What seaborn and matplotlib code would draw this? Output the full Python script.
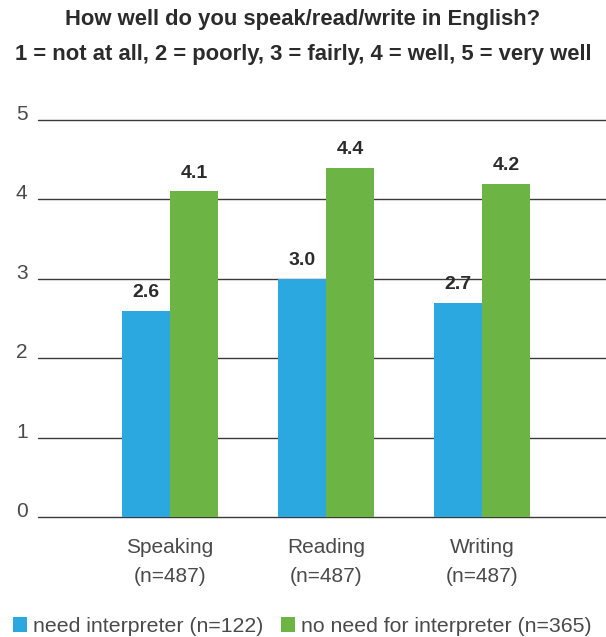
import matplotlib
matplotlib.use("Agg")
import matplotlib.pyplot as plt
import seaborn as sns
import pandas as pd
from matplotlib.patches import Patch

skills = ["Speaking\n(n=487)", "Reading\n(n=487)", "Writing\n(n=487)"]
groups = ["need interpreter (n=122)", "no need for interpreter (n=365)"]
need_interpreter = [2.6, 3.0, 2.7]
no_need = [4.1, 4.4, 4.2]
yticks = [0, 1, 2, 3, 4, 5]

colors = ["#2CA8E1", "#6CB443"]
text_gray = "#4a4a4a"
dark = "#2b2b2b"
grid_col = "#3a3a3a"

df = pd.DataFrame({
    "skill": skills * 2,
    "group": [groups[0]] * 3 + [groups[1]] * 3,
    "score": need_interpreter + no_need,
})

sns.set_theme(style="white")
plt.rcParams["font.family"] = ["Liberation Sans", "DejaVu Sans"]

W, H = 606, 637
fig = plt.figure(figsize=(W / 100, H / 100), dpi=100)
ax = fig.add_axes([38 / W, 1 - 517 / H, 1 - 38 / W, 397 / H])

sns.barplot(data=df, x="skill", y="score", hue="group", palette=colors,
            width=0.615, saturation=1, linewidth=0, ax=ax, legend=False,
            zorder=3)

ax.set_ylim(0, 5)
ax.set_xlim(-0.846, 2.795)
ax.set_yticks(yticks)
ax.yaxis.grid(True, color=grid_col, linewidth=1.0, zorder=0)
for gl in ax.get_ygridlines():
    gl.set_clip_on(False)
ax.set_axisbelow(True)
for s in ax.spines.values():
    s.set_visible(False)
ax.set_xlabel("")
ax.set_ylabel("")

# y tick labels sit on their gridlines, left-aligned near the figure edge
ax.tick_params(axis="y", length=0, labelsize=15, colors=text_gray, pad=22 * 0.72)
for lbl in ax.get_yticklabels():
    lbl.set_horizontalalignment("left")
    lbl.set_verticalalignment("baseline")

ax.tick_params(axis="x", length=0, labelsize=15, colors=text_gray, pad=15)
for lbl in ax.get_xticklabels():
    lbl.set_linespacing(1.7)

for cont in ax.containers:
    ax.bar_label(cont, fmt="%.1f", padding=7, fontsize=14,
                 fontweight="bold", color=dark)

fig.text(0.5, 1 - 25 / H, "How well do you speak/read/write in English?",
         ha="center", va="baseline", fontsize=15.8, fontweight="bold", color=dark)
fig.text(0.5, 1 - 60 / H, "1 = not at all, 2 = poorly, 3 = fairly, 4 = well, 5 = very well",
         ha="center", va="baseline", fontsize=15.8, fontweight="bold", color=dark)

handles = [Patch(facecolor=c, edgecolor="none") for c in colors]
fig.legend(handles, groups, loc="lower left", bbox_to_anchor=(13 / W, 1 / H),
           ncol=2, frameon=False, fontsize=15.3, labelcolor=text_gray,
           handlelength=0.66, handleheight=0.66, handletextpad=0.29,
           columnspacing=0.8, borderaxespad=0, borderpad=0)

fig.savefig("out.png", dpi=100)
